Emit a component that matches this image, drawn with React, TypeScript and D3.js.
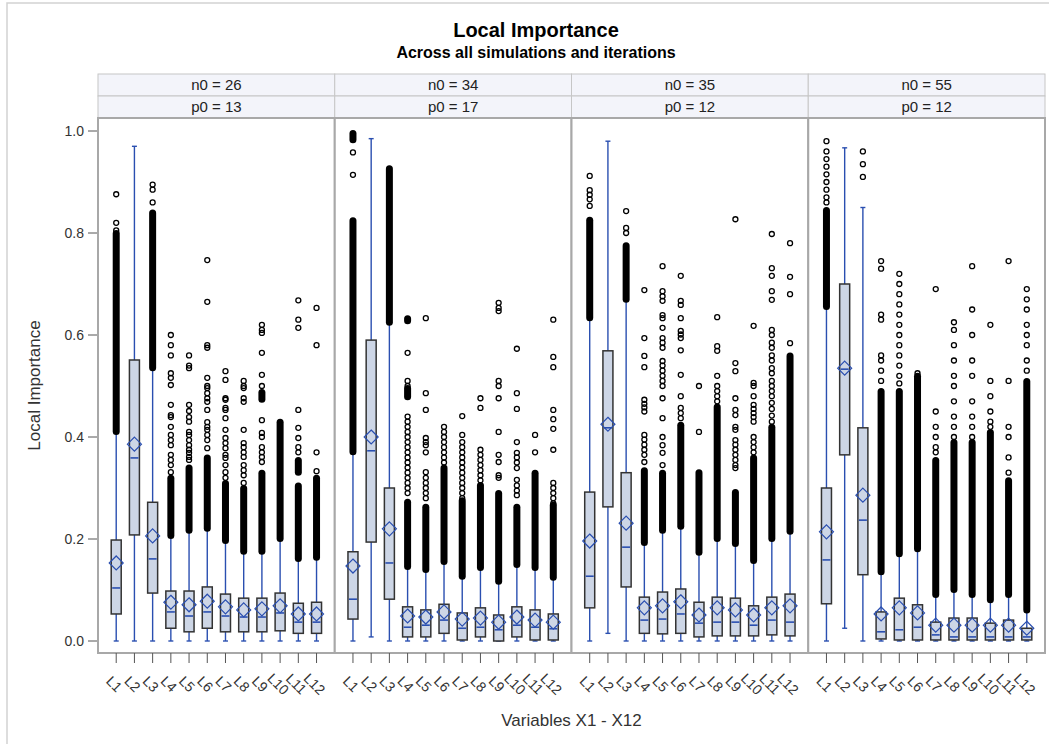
import React from "react";
import * as d3 from "d3";

// categories / panels
const variables = ["L1", "L2", "L3", "L4", "L5", "L6", "L7", "L8", "L9", "L10", "L11", "L12"];
const n0Values = [26, 34, 35, 55];
const p0Values = [13, 17, 12, 12];
const yTicks = [0, 0.2, 0.4, 0.6, 0.8, 1.0];

// box statistics, one row per panel
const q1 = [
  [0.053, 0.208, 0.094, 0.025, 0.018, 0.025, 0.018, 0.018, 0.018, 0.02, 0.015, 0.015],
  [0.043, 0.194, 0.082, 0.008, 0.008, 0.015, 0.002, 0.008, 0.0, 0.008, 0.002, 0.002],
  [0.065, 0.263, 0.106, 0.015, 0.014, 0.015, 0.008, 0.01, 0.01, 0.01, 0.012, 0.01],
  [0.073, 0.365, 0.13, 0.004, 0.002, 0.002, 0.002, 0.002, 0.002, 0.002, 0.002, 0.002],
];
const median = [
  [0.104, 0.359, 0.161, 0.057, 0.049, 0.057, 0.049, 0.047, 0.047, 0.055, 0.037, 0.037],
  [0.082, 0.373, 0.153, 0.027, 0.031, 0.041, 0.025, 0.027, 0.022, 0.031, 0.027, 0.024],
  [0.127, 0.418, 0.184, 0.041, 0.043, 0.053, 0.035, 0.037, 0.037, 0.031, 0.041, 0.037],
  [0.159, 0.533, 0.237, 0.018, 0.022, 0.027, 0.012, 0.008, 0.008, 0.008, 0.008, 0.008],
];
const q3 = [
  [0.198, 0.551, 0.272, 0.098, 0.098, 0.106, 0.092, 0.084, 0.084, 0.094, 0.074, 0.076],
  [0.175, 0.59, 0.3, 0.067, 0.061, 0.072, 0.055, 0.065, 0.051, 0.067, 0.061, 0.053],
  [0.292, 0.569, 0.33, 0.086, 0.096, 0.102, 0.076, 0.086, 0.084, 0.069, 0.086, 0.092],
  [0.3, 0.7, 0.418, 0.057, 0.084, 0.071, 0.037, 0.045, 0.045, 0.035, 0.041, 0.025],
];
const mean = [
  [0.153, 0.386, 0.206, 0.076, 0.071, 0.078, 0.067, 0.061, 0.063, 0.069, 0.053, 0.053],
  [0.147, 0.4, 0.22, 0.049, 0.047, 0.057, 0.043, 0.045, 0.037, 0.047, 0.041, 0.037],
  [0.196, 0.425, 0.231, 0.065, 0.069, 0.077, 0.051, 0.065, 0.061, 0.051, 0.065, 0.069],
  [0.214, 0.535, 0.286, 0.053, 0.065, 0.055, 0.031, 0.031, 0.031, 0.031, 0.031, 0.025],
];
const whiskerLow = [
  [0, 0, 0, 0, 0, 0, 0, 0, 0, 0, 0, 0],
  [0, 0.008, 0, 0, 0, 0, 0, 0, 0, 0, 0, 0],
  [0, 0.015, 0, 0, 0, 0, 0, 0, 0, 0, 0, 0],
  [0, 0.025, 0, 0, 0, 0, 0, 0, 0, 0, 0, 0],
];
const whiskerHigh = [
  [0.408, 0.97, 0.535, 0.206, 0.216, 0.22, 0.196, 0.175, 0.175, 0.2, 0.161, 0.163],
  [0.37, 0.985, 0.624, 0.145, 0.139, 0.155, 0.126, 0.143, 0.116, 0.149, 0.143, 0.124],
  [0.633, 0.98, 0.669, 0.192, 0.216, 0.224, 0.173, 0.2, 0.19, 0.157, 0.2, 0.214],
  [0.655, 0.967, 0.85, 0.135, 0.17, 0.18, 0.09, 0.1, 0.09, 0.08, 0.09, 0.06],
];

// outliers so packed they print as a solid bar: [low, high]
const denseOutliers: number[][][][] = [
  [
    [[0.41, 0.8]], [], [[0.535, 0.84]], [[0.206, 0.32]], [[0.216, 0.34]], [[0.22, 0.36]],
    [[0.196, 0.31]], [[0.175, 0.3]], [[0.175, 0.33], [0.473, 0.488]], [[0.2, 0.43]],
    [[0.161, 0.305], [0.33, 0.355]], [[0.163, 0.32]],
  ],
  [
    [[0.37, 0.825], [0.982, 0.996]], [], [[0.624, 0.927]], [[0.145, 0.273], [0.478, 0.496], [0.627, 0.633]],
    [[0.139, 0.263]], [[0.155, 0.34]], [[0.126, 0.276]], [[0.143, 0.306]], [[0.116, 0.29]],
    [[0.149, 0.263]], [[0.143, 0.33]], [[0.124, 0.267]],
  ],
  [
    [[0.633, 0.826]], [], [[0.669, 0.776]], [[0.192, 0.335]], [[0.216, 0.33]], [[0.224, 0.424]],
    [[0.173, 0.331]], [[0.2, 0.46]], [[0.19, 0.292]], [[0.157, 0.36]], [[0.2, 0.42]], [[0.214, 0.56]],
  ],
  [
    [[0.655, 0.845]], [], [], [[0.135, 0.49]], [[0.17, 0.49]], [[0.18, 0.52]],
    [[0.09, 0.355]], [[0.1, 0.39]], [[0.09, 0.39]], [[0.08, 0.41]], [[0.09, 0.315]], [[0.06, 0.51]],
  ],
];

// individual outliers
const sparseOutliers: number[][][] = [
  [
    [0.876, 0.82, 0.805],
    [],
    [0.895, 0.885, 0.86],
    [0.6, 0.58, 0.56, 0.525, 0.516, 0.502, 0.463, 0.443, 0.439, 0.42, 0.404, 0.394, 0.384, 0.365, 0.355, 0.345, 0.331],
    [0.56, 0.54, 0.535, 0.463, 0.451, 0.439, 0.43, 0.41, 0.404, 0.394, 0.384, 0.375, 0.369, 0.361, 0.355],
    [0.747, 0.665, 0.58, 0.575, 0.516, 0.5, 0.496, 0.486, 0.476, 0.469, 0.453, 0.429, 0.42, 0.414, 0.404, 0.394, 0.378],
    [0.529, 0.512, 0.476, 0.473, 0.457, 0.453, 0.437, 0.414, 0.398, 0.388, 0.378, 0.365, 0.359, 0.345, 0.331, 0.32],
    [0.51, 0.5, 0.496, 0.476, 0.469, 0.414, 0.388, 0.38, 0.37, 0.361, 0.345, 0.335, 0.325, 0.31],
    [0.62, 0.61, 0.604, 0.565, 0.522, 0.5, 0.433, 0.408, 0.4, 0.38, 0.37, 0.361, 0.351],
    [],
    [0.668, 0.63, 0.614, 0.453, 0.418, 0.398, 0.38, 0.37],
    [0.653, 0.58, 0.37, 0.333],
  ],
  [
    [0.958, 0.914],
    [],
    [],
    [0.565, 0.51, 0.5, 0.44, 0.43, 0.42, 0.41, 0.4, 0.39, 0.38, 0.37, 0.36, 0.35, 0.34, 0.33, 0.32, 0.31, 0.3, 0.29],
    [0.633, 0.486, 0.453, 0.398, 0.39, 0.384, 0.37, 0.331, 0.32, 0.31, 0.3, 0.29, 0.28],
    [0.42, 0.41, 0.4, 0.39, 0.38, 0.37, 0.36, 0.35],
    [0.441, 0.404, 0.39, 0.38, 0.37, 0.36, 0.35, 0.34, 0.33, 0.32, 0.31, 0.3, 0.29, 0.28],
    [0.476, 0.457, 0.375, 0.365, 0.355, 0.345, 0.335, 0.325, 0.315],
    [0.663, 0.653, 0.647, 0.51, 0.5, 0.476, 0.41, 0.365, 0.351, 0.325, 0.32],
    [0.573, 0.486, 0.455, 0.39, 0.369, 0.36, 0.35, 0.339, 0.316, 0.305, 0.295, 0.286],
    [0.404, 0.37],
    [0.63, 0.557, 0.537, 0.453, 0.435, 0.416, 0.375, 0.31, 0.3, 0.29, 0.28, 0.27],
  ],
  [
    [0.912, 0.884, 0.875, 0.866, 0.853],
    [],
    [0.843, 0.81, 0.8],
    [0.688, 0.594, 0.559, 0.537, 0.473, 0.465, 0.458, 0.45, 0.404, 0.395, 0.385, 0.375, 0.365, 0.351],
    [0.735, 0.686, 0.676, 0.667, 0.639, 0.633, 0.614, 0.594, 0.585, 0.575, 0.549, 0.54, 0.53, 0.52, 0.51, 0.5, 0.476, 0.437, 0.4, 0.384, 0.369, 0.345],
    [0.716, 0.667, 0.659, 0.633, 0.608, 0.601, 0.594, 0.57, 0.522, 0.48, 0.457, 0.447, 0.437],
    [0.5, 0.41],
    [0.635, 0.578, 0.569, 0.52, 0.5, 0.49, 0.48, 0.47],
    [0.827, 0.545, 0.529, 0.476, 0.453, 0.443, 0.42, 0.414, 0.394, 0.385, 0.375, 0.365, 0.355, 0.345, 0.339],
    [0.618, 0.506, 0.5, 0.48, 0.463, 0.455, 0.447, 0.439, 0.43, 0.4, 0.39, 0.38, 0.37],
    [0.798, 0.731, 0.716, 0.686, 0.669, 0.61, 0.6, 0.585, 0.575, 0.56, 0.55, 0.535, 0.525, 0.51, 0.5, 0.49, 0.48, 0.467, 0.455, 0.442, 0.43],
    [0.78, 0.714, 0.68, 0.584],
  ],
  [
    [0.98, 0.96, 0.945, 0.93, 0.915, 0.9, 0.885, 0.87, 0.86],
    [],
    [0.96, 0.935, 0.91],
    [0.745, 0.73, 0.64, 0.63, 0.56, 0.55, 0.53, 0.51],
    [0.72, 0.7, 0.68, 0.66, 0.64, 0.62, 0.6, 0.58, 0.56, 0.54, 0.52, 0.505],
    [0.525],
    [0.69, 0.45, 0.42, 0.4, 0.38, 0.37],
    [0.625, 0.61, 0.58, 0.55, 0.52, 0.5, 0.47, 0.44, 0.42, 0.4],
    [0.735, 0.65, 0.6, 0.55, 0.52, 0.47, 0.44, 0.42, 0.4],
    [0.62, 0.51, 0.48, 0.45, 0.43, 0.42],
    [0.745, 0.51, 0.42, 0.4, 0.36, 0.33],
    [0.69, 0.67, 0.65, 0.62, 0.6, 0.58, 0.55, 0.53],
  ],
];

const BLUE = "#2a4fb0";
const BOX_FILL = "#cdd6e6";
const FONT = "'Liberation Sans', Arial, sans-serif";

export default function App() {
  const width = 1049;
  const height = 744;
  const plotLeft = 98;
  const plotRight = 1045;
  const plotTop = 118;
  const plotBottom = 653;
  const stripH = 22;

  const panelX = d3
    .scaleBand<number>()
    .domain(d3.range(n0Values.length))
    .range([plotLeft, plotRight]);
  const y = d3.scaleLinear().domain([0, 1]).range([641, 131]);
  const x = d3
    .scalePoint<string>()
    .domain(variables)
    .range([0, panelX.bandwidth()])
    .padding(1);

  const boxW = 10;
  const capW = 5;
  const dm = 7; // diamond half size

  return (
    <svg
      width={width}
      height={height}
      style={{ position: "absolute", left: 0, top: 0, background: "#fff" }}
      fontFamily={FONT}
    >
      <rect x={7} y={3} width={1058} height={780} fill="#fff" stroke="#d2d2d2" strokeWidth={1.5} />

      <text x={536} y={37} textAnchor="middle" fontSize={20} fontWeight="bold" fill="#000">
        Local Importance
      </text>
      <text x={536} y={58} textAnchor="middle" fontSize={16} fontWeight="bold" fill="#000">
        Across all simulations and iterations
      </text>

      {/* y axis */}
      <g>
        {yTicks.map((t) => (
          <g key={t} transform={`translate(0,${y(t)})`}>
            <line x1={plotLeft - 10} x2={plotLeft} stroke="#555" />
            <text x={plotLeft - 14} dy="0.35em" textAnchor="end" fontSize={14} fill="#333">
              {t.toFixed(1)}
            </text>
          </g>
        ))}
        <text
          transform={`translate(40,${(plotTop + plotBottom) / 2}) rotate(-90)`}
          textAnchor="middle"
          fontSize={17}
          fill="#333"
        >
          Local Importance
        </text>
        <text
          x={(plotLeft + plotRight) / 2}
          y={726}
          textAnchor="middle"
          fontSize={17}
          fill="#333"
        >
          Variables X1 - X12
        </text>
      </g>

      {n0Values.map((n0, p) => {
        const px = panelX(p)!;
        const bw = panelX.bandwidth();
        return (
          <g key={p}>
            {/* strips */}
            <rect x={px} y={plotTop - 2 * stripH} width={bw} height={stripH} fill="#f3f4fa" stroke="#c6c6c6" />
            <rect x={px} y={plotTop - stripH} width={bw} height={stripH} fill="#f3f4fa" stroke="#c6c6c6" />
            <text x={px + bw / 2} y={plotTop - 1.5 * stripH} dy="0.36em" textAnchor="middle" fontSize={15} fill="#222">
              {`n0 = ${n0}`}
            </text>
            <text x={px + bw / 2} y={plotTop - 0.5 * stripH} dy="0.36em" textAnchor="middle" fontSize={15} fill="#222">
              {`p0 = ${p0Values[p]}`}
            </text>

            {/* panel frame */}
            <rect x={px} y={plotTop} width={bw} height={plotBottom - plotTop} fill="#fff" stroke="#a8a8a8" strokeWidth={2} />

            {variables.map((v, i) => {
              const cx = px + x(v)!;
              return (
                <g key={v}>
                  {/* x tick + label */}
                  <line x1={cx} x2={cx} y1={plotBottom} y2={plotBottom + 10} stroke="#555" />
                  <text
                    transform={`translate(${cx - 2},${plotBottom + 31}) rotate(45)`}
                    textAnchor="middle"
                    dy="0.35em"
                    fontSize={14}
                    fill="#333"
                  >
                    {v}
                  </text>

                  {/* whiskers */}
                  <line x1={cx} x2={cx} y1={y(whiskerLow[p][i])} y2={y(whiskerHigh[p][i])} stroke={BLUE} strokeWidth={1.4} />
                  <line x1={cx - capW / 2} x2={cx + capW / 2} y1={y(whiskerLow[p][i])} y2={y(whiskerLow[p][i])} stroke={BLUE} strokeWidth={1.4} />
                  <line x1={cx - capW / 2} x2={cx + capW / 2} y1={y(whiskerHigh[p][i])} y2={y(whiskerHigh[p][i])} stroke={BLUE} strokeWidth={1.4} />

                  {/* box */}
                  <rect
                    x={cx - boxW / 2}
                    y={y(q3[p][i])}
                    width={boxW}
                    height={y(q1[p][i]) - y(q3[p][i])}
                    fill={BOX_FILL}
                    stroke="#333"
                    strokeWidth={1.5}
                  />
                  <line x1={cx - boxW / 2 + 1} x2={cx + boxW / 2 - 1} y1={y(median[p][i])} y2={y(median[p][i])} stroke={BLUE} strokeWidth={1.6} />
                  <path
                    d={`M${cx},${y(mean[p][i]) - dm}L${cx + dm},${y(mean[p][i])}L${cx},${y(mean[p][i]) + dm}L${cx - dm},${y(mean[p][i])}Z`}
                    fill="none"
                    stroke={BLUE}
                    strokeWidth={1.2}
                  />

                  {/* outliers */}
                  {denseOutliers[p][i].map(([lo, hi], k) => (
                    <rect
                      key={`d${k}`}
                      x={cx - 3.5}
                      y={y(hi) - 3}
                      width={7}
                      height={y(lo) - y(hi) + 6}
                      rx={3.5}
                      fill="#000"
                    />
                  ))}
                  {sparseOutliers[p][i].map((o, k) => (
                    <circle key={`s${k}`} cx={cx} cy={y(o)} r={2.5} fill="none" stroke="#000" strokeWidth={1.3} />
                  ))}
                </g>
              );
            })}
          </g>
        );
      })}
    </svg>
  );
}
